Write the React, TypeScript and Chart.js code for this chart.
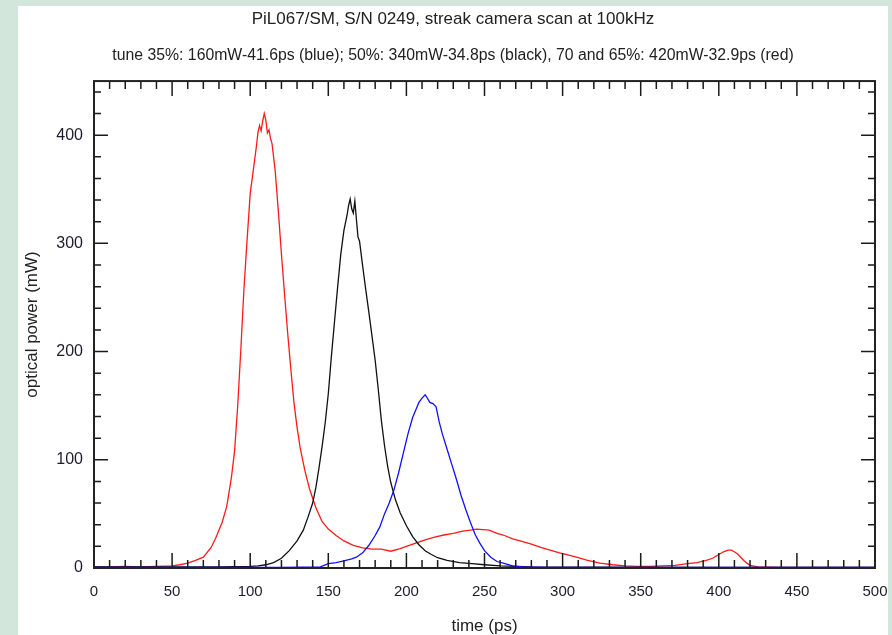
import React, { useEffect, useRef } from 'react';
import { Chart, registerables } from 'chart.js';

Chart.register(...registerables);

const TITLE = 'PiL067/SM, S/N 0249, streak camera scan at 100kHz';
const SUBTITLE = 'tune 35%: 160mW-41.6ps (blue); 50%: 340mW-34.8ps (black), 70 and 65%: 420mW-32.9ps (red)';
const X_LABEL = 'time (ps)';
const Y_LABEL = 'optical power (mW)';

const X_TICKS = [0, 50, 100, 150, 200, 250, 300, 350, 400, 450, 500];
const Y_TICKS = [0, 100, 200, 300, 400];
const X_MIN = 0;
const X_MAX = 500;
const Y_MIN = 0;
const Y_MAX = 450;
const X_MINOR_STEP = 10;
const Y_MINOR_STEP = 20;

// red: 70 and 65% tune, 420 mW
const redTime = [0, 10, 20, 30, 40, 50, 55, 60, 65, 70, 75, 78, 82, 85, 88, 90, 92, 94, 96, 98, 100, 102, 104, 105, 106, 107, 108, 109, 110, 111, 112, 113, 114, 116, 118, 120, 122, 124, 126, 128, 130, 132, 135, 138, 142, 146, 150, 155, 160, 166, 172, 178, 184, 190, 196, 200, 206, 212, 218, 224, 230, 236, 241, 245, 249, 253, 258, 262, 268, 274, 280, 286, 292, 298, 304, 310, 316, 324, 332, 340, 348, 356, 364, 372, 380, 386, 392, 396, 400, 403, 406, 408, 410, 412, 414, 416, 418, 420, 425, 440, 460, 480, 500];
const redPower = [1, 1, 1.5, 1, 1.5, 2, 3, 4.5, 7, 10, 19, 28, 42, 57, 84, 108, 150, 202, 258, 303, 346, 368, 390, 403, 409, 404, 413, 420, 414, 402, 405, 397, 392, 367, 330, 290, 253, 217, 184, 153, 130, 111, 90, 73, 56, 43, 36, 30, 25, 21, 18.5, 17.5, 17.5, 15.5, 18, 20, 23, 26, 28.5, 30.5, 32, 34, 35, 36, 35.5, 35, 32, 30.5, 27, 24.5, 22, 19, 16.5, 14, 12, 9.5, 7, 4.5, 3, 2, 1.5, 1.5, 2, 2.5, 4, 5, 7, 9, 12.5, 15, 16.5, 16.5, 15, 13, 10, 7, 4.5, 2.5, 1, 0.5, 0.5, 0.5, 0.5];

// black: 50% tune, 340 mW
const blackTime = [0, 20, 40, 60, 80, 100, 105, 110, 115, 120, 125, 130, 134, 137, 140, 142, 144, 146, 148, 150, 152, 154, 156, 158, 160, 162, 163, 164, 165, 166, 167, 168, 169, 170, 172, 174, 176, 178, 180, 182, 184, 186, 188, 190, 193, 196, 200, 204, 208, 212, 216, 220, 226, 234, 242, 250, 260, 280, 320, 400, 500];
const blackPower = [1, 1, 1, 1, 1, 1.5, 2, 3, 5, 9, 16, 25, 35, 47, 60, 74, 92, 112, 134, 161, 196, 228, 260, 290, 312, 326, 335, 341, 332, 328, 339, 322, 306, 302, 279, 257, 236, 214, 192, 165, 136, 113, 94, 79, 63, 51, 39, 29, 21.5, 16, 12.5, 9.5, 7, 5, 4, 3, 2, 1, 0.8, 0.5, 0.5];

// blue: 35% tune, 160 mW
const blueTime = [0, 40, 80, 120, 145, 150, 155, 160, 165, 168, 172, 176, 180, 183, 186, 189, 192, 195, 198, 201, 204, 206, 208, 210, 212, 213, 215, 217, 219, 221, 223, 226, 229, 232, 235, 238, 241, 244, 247, 250, 254, 258, 262, 268, 274, 290, 350, 420, 500];
const bluePower = [0.5, 0.5, 0.5, 0.5, 1, 4, 5, 6.5, 8.5, 10, 14, 21, 30, 38, 50, 60, 72, 88, 106, 124, 139, 146, 153, 157, 160, 158, 153, 152, 149, 135, 124, 110, 96, 82, 67, 54, 42, 31, 23, 16, 10, 6, 4.5, 2, 1, 0.5, 0.5, 0.5, 0.5];

const toPoints = (t: number[], v: number[]) => t.map((x, i) => ({ x, y: v[i] }));

const FONT = "'Liberation Sans', Arial, sans-serif";

const frameTicks = {
  id: 'frameTicks',
  afterDatasetsDraw(chart: any) {
    const { ctx, chartArea, scales } = chart;
    const { left, right, top, bottom } = chartArea;
    const x = scales.x;
    const y = scales.y;
    ctx.save();
    ctx.strokeStyle = '#1a1a1a';
    ctx.lineWidth = 1.5;
    ctx.beginPath();
    for (let v = X_MIN; v <= X_MAX + 1e-9; v += X_MINOR_STEP) {
      const px = x.getPixelForValue(v);
      const len = v % 50 === 0 ? 15 : 8;
      ctx.moveTo(px, bottom);
      ctx.lineTo(px, bottom - len);
      ctx.moveTo(px, top);
      ctx.lineTo(px, top + len);
    }
    for (let v = Y_MIN; v <= Y_MAX + 1e-9; v += Y_MINOR_STEP) {
      const py = y.getPixelForValue(v);
      const len = v % 100 === 0 ? 14 : 7;
      ctx.moveTo(left, py);
      ctx.lineTo(left + len, py);
      ctx.moveTo(right, py);
      ctx.lineTo(right - len, py);
    }
    ctx.stroke();
    ctx.lineWidth = 2;
    ctx.strokeStyle = '#222';
    ctx.strokeRect(left, top, right - left, bottom - top);
    ctx.restore();
  },
};

export default function App() {
  const ref = useRef<HTMLCanvasElement | null>(null);

  useEffect(() => {
    document.body.style.margin = '0';
    if (!ref.current) return;
    const chart = new Chart(ref.current, {
      type: 'line',
      data: {
        datasets: [
          { label: 'blue', data: toPoints(blueTime, bluePower), borderColor: '#1010ff', borderWidth: 1.3, pointRadius: 0, tension: 0, fill: false },
          { label: 'black', data: toPoints(blackTime, blackPower), borderColor: '#111111', borderWidth: 1.3, pointRadius: 0, tension: 0, fill: false },
          { label: 'red', data: toPoints(redTime, redPower), borderColor: '#ff1a1a', borderWidth: 1.3, pointRadius: 0, tension: 0, fill: false },
        ],
      },
      options: {
        animation: false,
        responsive: false,
        layout: { padding: 0 },
        plugins: {
          legend: { display: false },
          tooltip: { enabled: false },
          title: {
            display: true,
            text: TITLE,
            color: '#222',
            font: { family: FONT, size: 17, weight: 'normal' },
            padding: { top: 2.8, bottom: 7 },
          },
          subtitle: {
            display: true,
            text: SUBTITLE,
            color: '#222',
            font: { family: FONT, size: 15.8, weight: 'normal' },
            padding: { top: 10.3, bottom: 15.6 },
          },
        },
        scales: {
          x: {
            type: 'linear',
            min: X_MIN,
            max: X_MAX,
            grid: { display: false, drawTicks: false },
            border: { display: false },
            afterBuildTicks: (s: any) => { s.ticks = X_TICKS.map((value) => ({ value })); },
            afterFit: (s: any) => { s.height = 67; s.paddingRight = 13; s.paddingLeft = 0; },
            ticks: {
              color: '#1c1c2c',
              font: { family: FONT, size: 15 },
              padding: 15,
              maxRotation: 0,
              autoSkip: false,
            },
            title: {
              display: true,
              text: X_LABEL,
              color: '#222',
              font: { family: FONT, size: 17 },
              padding: { top: 0, bottom: -1.5 },
            },
          },
          y: {
            type: 'linear',
            min: Y_MIN,
            max: Y_MAX,
            grid: { display: false, drawTicks: false },
            border: { display: false },
            afterBuildTicks: (s: any) => { s.ticks = Y_TICKS.map((value) => ({ value })); },
            afterFit: (s: any) => { s.width = 76; s.paddingTop = 0; s.paddingBottom = 0; },
            ticks: {
              color: '#1c1c2c',
              font: { family: FONT, size: 16 },
              padding: 11,
              autoSkip: false,
            },
            title: {
              display: true,
              text: Y_LABEL,
              color: '#222',
              font: { family: FONT, size: 17 },
              padding: { top: 4.5, bottom: 0 },
            },
          },
        },
      },
      plugins: [frameTicks],
    } as any);
    return () => chart.destroy();
  }, []);

  return (
    <div style={{ position: 'relative', width: 892, height: 635, background: '#d3e6dc', overflow: 'hidden' }}>
      <div style={{ position: 'absolute', left: 18, top: 6, width: 870, height: 629, background: '#ffffff' }}>
        <canvas ref={ref} width={870} height={629} style={{ display: 'block' }} />
      </div>
    </div>
  );
}
